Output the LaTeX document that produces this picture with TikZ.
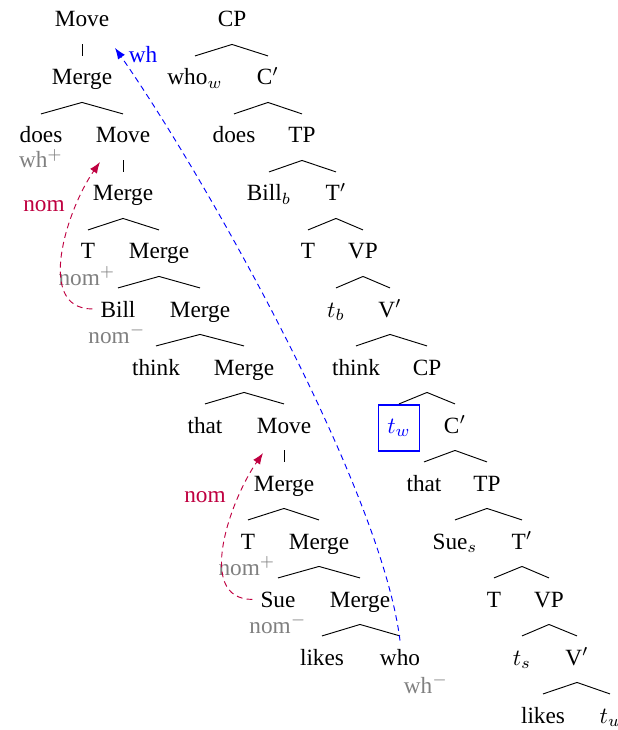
\documentclass[tikz,border=0pt]{standalone}
\usepackage{fontspec}
\setmainfont{Liberation Serif}
\usepackage{xcolor}
\usetikzlibrary{arrows.meta}

\begin{document}
\begin{tikzpicture}[
    x=0.43pt, y=0.43pt,
    >=Latex,
    w/.style={anchor=base},
    feat/.style={anchor=base, text=gray},
    nomarrow/.style={purple, dash pattern=on 2.5pt off 1.8pt, ->},
    wharrow/.style={blue, dash pattern=on 2.5pt off 1.8pt, ->}
]
\useasboundingbox (0,0) rectangle (618,-730);

% derivation tree
\node[w] (mv1) at (82,-27) {Move};
\node[w] (mg1) at (82,-85) {Merge};
\node[w] (ldoes) at (41,-143) {does}; \node[w] (mv2) at (123,-143) {Move};
\node[w] (mg2) at (123,-201) {Merge};
\node[w] (lt1) at (88,-259) {T}; \node[w] (mg3) at (159,-259) {Merge};
\node[w] (bill) at (118,-317) {Bill}; \node[w] (mg4) at (200,-317) {Merge};
\node[w] (lthink) at (156,-375) {think}; \node[w] (mg5) at (244,-375) {Merge};
\node[w] (lthat) at (205,-433) {that}; \node[w] (mv3) at (284,-433) {Move};
\node[w] (mg6) at (284,-491) {Merge};
\node[w] (lt2) at (248,-549) {T}; \node[w] (mg7) at (319,-549) {Merge};
\node[w] (sue) at (278,-607) {Sue}; \node[w] (mg8) at (360,-607) {Merge};
\node[w] (llikes) at (322,-665) {likes}; \node[w] (who) at (400,-665) {who};

% features
\node[feat] (f1) at (41,-168) {wh$^+$};
\node[feat] (f2) at (87,-285) {nom$^+$};
\node[feat] (f3) at (117,-343) {nom$^-$};
\node[feat] (f4) at (247,-575) {nom$^+$};
\node[feat] (f5) at (278,-633) {nom$^-$};
\node[feat] (f6) at (426,-693) {wh$^-$};

% derived tree
\node[w] (cp1) at (232,-27) {CP};
\node[w] (whow) at (195,-85) {who$_w$}; \node[w] (cbar1) at (268,-85) {C$'$};
\node[w] (rdoes) at (234,-143) {does}; \node[w] (tp1) at (302,-143) {TP};
\node[w] (billb) at (269,-201) {Bill$_b$}; \node[w] (tbar1) at (336,-201) {T$'$};
\node[w] (rt1) at (308,-259) {T}; \node[w] (vp1) at (363,-259) {VP};
\node[w] (tb) at (336,-317) {$t_b$}; \node[w] (vbar1) at (390,-317) {V$'$};
\node[w] (rthink) at (356,-375) {think}; \node[w] (cp2) at (427,-375) {CP};
\node[w, draw=blue, text=blue, line width=0.8pt, minimum width=17.6pt,
      minimum height=19.8pt, inner sep=0pt] (tw) at (399,-433) {$t_w$};
\node[w] (cbar2) at (455,-433) {C$'$};
\node[w] (rthat) at (424,-491) {that}; \node[w] (tp2) at (487,-491) {TP};
\node[w] (sues) at (455,-549) {Sue$_s$}; \node[w] (tbar2) at (522,-549) {T$'$};
\node[w] (rt2) at (494,-607) {T}; \node[w] (vp2) at (549,-607) {VP};
\node[w] (ts) at (522,-665) {$t_s$}; \node[w] (vbar2) at (577,-665) {V$'$};
\node[w] (rlikes) at (543,-723) {likes}; \node[w] (tu) at (610,-723) {$t_u$};

% branches
\foreach \p/\c in {mv1/mg1, mg1/ldoes, mg1/mv2, mv2/mg2, mg2/lt1, mg2/mg3,
    mg3/bill, mg3/mg4, mg4/lthink, mg4/mg5, mg5/lthat, mg5/mv3, mv3/mg6,
    mg6/lt2, mg6/mg7, mg7/sue, mg7/mg8, mg8/llikes, mg8/who,
    cp1/whow, cp1/cbar1, cbar1/rdoes, cbar1/tp1, tp1/billb, tp1/tbar1,
    tbar1/rt1, tbar1/vp1, vp1/tb, vp1/vbar1, vbar1/rthink, vbar1/cp2,
    cp2/tw, cp2/cbar2, cbar2/rthat, cbar2/tp2, tp2/sues, tp2/tbar2,
    tbar2/rt2, tbar2/vp2, vp2/ts, vp2/vbar2, vbar2/rlikes, vbar2/tu}
    \draw ([yshift=-7.5pt]\p.base) -- ([yshift=12.5pt]\c.base);

% movement
\draw[nomarrow] (bill.west) to[out=180, in=-125] ([xshift=-9.9pt, yshift=-8.2pt]mv2.base);
\draw[nomarrow] (sue.west) to[out=180, in=-125] ([xshift=-9pt, yshift=-8.6pt]mv3.base);
\draw[wharrow] (who.north) to[out=97, in=-55, looseness=0.6] ([xshift=14.2pt, yshift=-9pt]mv1.base);
\node[w, text=purple] (nomlab1) at (44,-211) {nom};
\node[w, text=purple] (nomlab2) at (205,-502) {nom};
\node[w, text=blue] (whlab) at (143,-63) {wh};
\end{tikzpicture}
\end{document}
